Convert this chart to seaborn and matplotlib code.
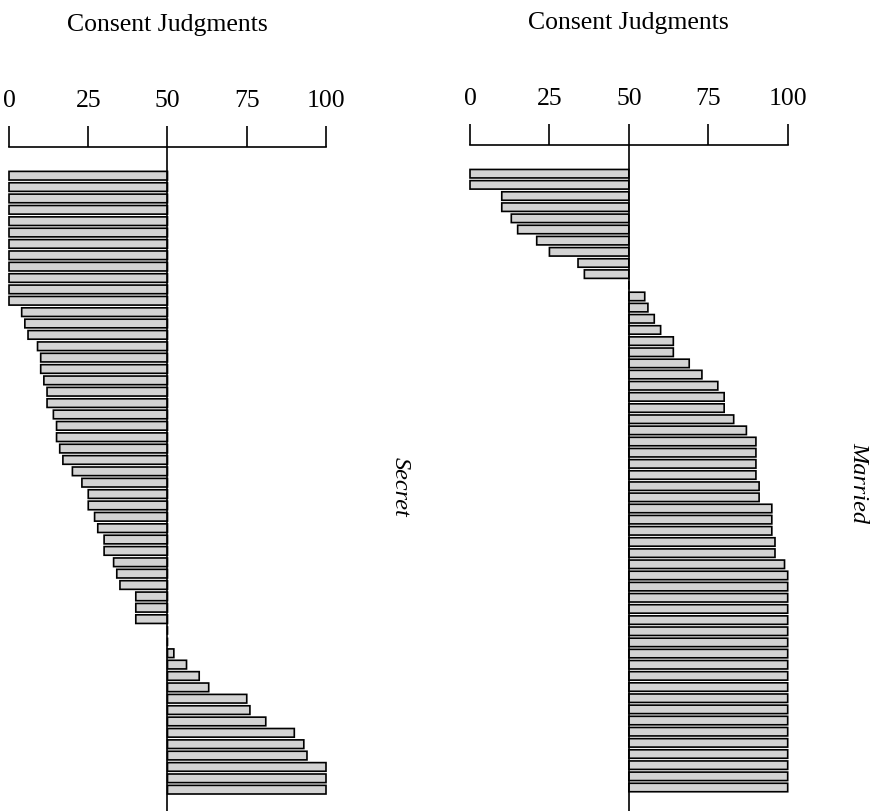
import numpy as np
import pandas as pd
import matplotlib
matplotlib.use("Agg")
import matplotlib.pyplot as plt
import seaborn as sns
from matplotlib.ticker import FuncFormatter, FixedLocator

# ---------------- data ----------------
secret_values = [0, 0, 0, 0, 0, 0, 0, 0, 0, 0, 0, 0,
                 4, 5, 6, 9, 10, 10, 11, 12, 12, 14, 15, 15, 16, 17, 20,
                 23, 25, 25, 27, 28, 30, 30, 33, 34, 35, 40, 40, 40,
                 50, 50,
                 52, 56, 60, 63, 75, 76, 81, 90, 93, 94, 100, 100, 100]
married_values = [0, 0, 10, 10, 13, 15, 21, 25, 34, 36,
                  50,
                  55, 56, 58, 60, 64, 64, 69, 73, 78, 80, 80, 83, 87,
                  90, 90, 90, 90, 91, 91, 95, 95, 95, 96, 96, 99,
                  100, 100, 100, 100, 100, 100, 100, 100, 100, 100,
                  100, 100, 100, 100, 100, 100, 100, 100, 100, 100]
panel_titles = ["Secret", "Married"]
axis_title = "Consent Judgments"
tick_values = [0, 25, 50, 75, 100]
midpoint = 50

sns.set_theme(style="white")
plt.rcParams["font.family"] = ["Liberation Serif", "DejaVu Serif"]

W, H = 878, 812
fig = plt.figure(figsize=(W / 100, H / 100), dpi=100)

# panel geometry in pixels: (x0, x100, top_y, first_center, spacing)
geoms = [
    (9.0, 326.0, 147.7, 176.7, 11.37),
    (470.0, 787.7, 145.7, 174.7, 11.16),
]
label_pos = [(400.0, 486.7), (859.0, 482.5)]

for vals, title, (x0, x1, top, c0, sp), (lx, ly) in zip(
        [secret_values, married_values], panel_titles, geoms, label_pos):
    ax = fig.add_axes([x0 / W, 0.0, (x1 - x0) / W, 1 - top / H])
    df = pd.DataFrame({"row": np.arange(len(vals)),
                       "dev": np.array(vals, dtype=float) - midpoint})
    sns.barplot(data=df, x="dev", y="row", orient="h", ax=ax,
                color="#d3d3d3", edgecolor="black", linewidth=1.2,
                width=0.76, saturation=1, errorbar=None)
    for p in ax.patches:
        p.set_clip_on(False)
        p.set_snap(False)
    ax.set_xlim(-midpoint, 100 - midpoint)
    ax.set_ylim((H - c0) / sp, -(c0 - top) / sp)
    ax.axvline(0, color="black", lw=1.2, zorder=5)

    for s in ["left", "right", "bottom"]:
        ax.spines[s].set_visible(False)
    ax.spines["top"].set_linewidth(1.2)
    ax.spines["top"].set_color("black")
    ax.xaxis.tick_top()
    ax.xaxis.set_major_locator(FixedLocator([t - midpoint for t in tick_values]))
    ax.xaxis.set_major_formatter(FuncFormatter(lambda v, _: f"{v + midpoint:g}"))
    ax.tick_params(axis="x", direction="out", length=15, width=1.2,
                   color="black", labelsize=18.5, pad=11, labelcolor="black")
    ax.set_yticks([])
    ax.set_ylabel("")
    ax.xaxis.set_label_position("top")
    ax.set_xlabel(axis_title, fontsize=18.5, labelpad=42, color="black")

    fig.text(lx / W, 1 - ly / H, title, rotation=270, style="italic",
             fontsize=17.5, ha="center", va="center", color="black")

fig.savefig("out.png", dpi=100)
